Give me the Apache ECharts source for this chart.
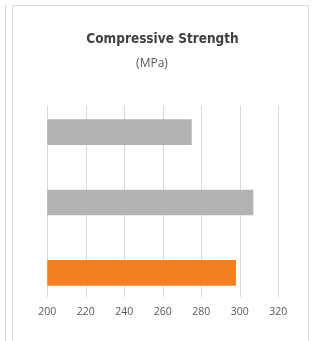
<!DOCTYPE html>
<html>
<head>
<meta charset="utf-8">
<script src="https://cdn.jsdelivr.net/npm/echarts@6/dist/echarts.min.js"></script>
<style>
  html, body { margin: 0; padding: 0; background: #fff; }
  #chart { width: 313px; height: 341px; }
</style>
</head>
<body>
<div id="chart"></div>
<script>
// bottom to top, as ECharts stacks categories
var categories = ['C', 'B', 'A'];
var values = [298, 307, 275];
var barColors = ['#F47F20', '#B3B3B3', '#B3B3B3'];
var xTicks = [200, 220, 240, 260, 280, 300, 320];

var chart = echarts.init(document.getElementById('chart'));
chart.setOption({
    animation: false,
    graphic: [
        { type: 'rect', shape: { x: 12.5, y: 5.5, width: 296, height: 400 },
          style: { fill: 'none', stroke: '#D9D9D9', lineWidth: 1 } },
        { type: 'line', shape: { x1: 5.5, y1: 5, x2: 5.5, y2: 341 },
          style: { stroke: '#D9D9D9', lineWidth: 1 } },
        { type: 'text', x: 162.5, y: 39.5,
          style: { text: 'Compressive Strength', textAlign: 'center', textVerticalAlign: 'middle',
                   font: 'bold 13.5px "DejaVu Sans Condensed", sans-serif', fill: '#404040' } },
        { type: 'text', x: 152, y: 63.5,
          style: { text: '(MPa)', textAlign: 'center', textVerticalAlign: 'middle',
                   font: '12px "Open Sans", sans-serif', fill: '#595959' } }
    ],
    grid: [
        { left: 47.3, right: 34.7, top: 97, height: 211 },
        { left: 47.3, right: 34.7, top: 106, height: 191 }
    ],
    xAxis: [
        { gridIndex: 0, type: 'value', min: 200, max: 320, interval: 20, show: false },
        {
            gridIndex: 1, type: 'value', min: xTicks[0], max: xTicks[xTicks.length - 1], interval: 20,
            axisLine: { show: false }, axisTick: { show: false },
            axisLabel: { color: '#595959', fontSize: 10.5, fontFamily: 'Open Sans', margin: 9.5 },
            splitLine: { lineStyle: { color: '#D9D9D9', width: 1 } }
        }
    ],
    yAxis: [
        { gridIndex: 0, type: 'category', data: categories, show: false },
        { gridIndex: 1, type: 'category', data: categories, show: false }
    ],
    series: [
        {
            type: 'bar',
            xAxisIndex: 0, yAxisIndex: 0,
            barWidth: 25.7,
            data: values.map(function (v, i) {
                return { value: v, itemStyle: { color: barColors[i] } };
            })
        },
        { type: 'bar', xAxisIndex: 1, yAxisIndex: 1, data: [] }
    ]
});
</script>
</body>
</html>
